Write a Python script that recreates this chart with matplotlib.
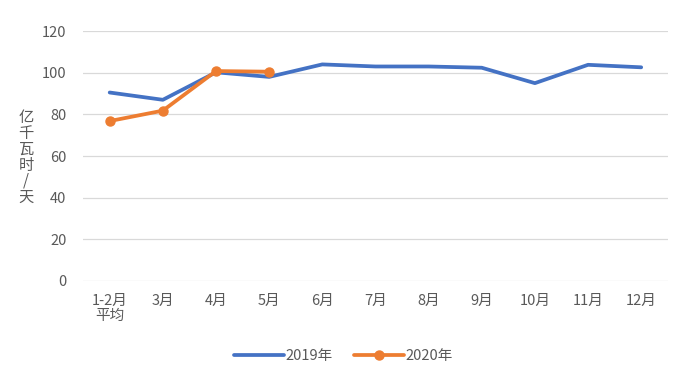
#!/usr/bin/env python3
# -*- coding: utf-8 -*-

import matplotlib
matplotlib.use('Agg')
import matplotlib.pyplot as plt

plt.rcParams['font.family'] = ['Noto Sans CJK SC', 'DejaVu Sans']

months = ['1-2月\n平均', '3月', '4月', '5月', '6月', '7月', '8月', '9月', '10月', '11月', '12月']
power_2019 = [90.5, 87, 100.2, 98, 104, 103, 103, 102.4, 95, 103.8, 102.6]
power_2020 = [76.8, 81.8, 100.8, 100.5]
y_ticks = [0, 20, 40, 60, 80, 100, 120]

blue = '#4472C4'
orange = '#ED7D31'
gray = '#595959'

fig = plt.figure(figsize=(6.87, 3.79), dpi=100)
ax = fig.add_axes([0.121, 0.2586, 0.851, 0.6594])

x = list(range(len(months)))
ax.plot(x, power_2019, color=blue, linewidth=2.7, label='2019年', solid_capstyle='round')
ax.plot(x[:len(power_2020)], power_2020, color=orange, linewidth=2.7, marker='o',
        markersize=6.5, label='2020年', solid_capstyle='round')

ax.set_xlim(-0.5, len(months) - 0.5)
ax.set_ylim(0, 120)
ax.set_yticks(y_ticks)
ax.set_xticks(x)
ax.set_xticklabels(months, linespacing=1.1)
ax.grid(axis='y', color='#D9D9D9', linewidth=0.9)
ax.set_axisbelow(True)
for s in ax.spines.values():
    s.set_visible(False)
ax.tick_params(length=0, colors=gray, labelsize=10.5)
ax.tick_params(axis='y', pad=12)
ax.tick_params(axis='x', pad=9)

fig.text(0.038, 0.585, '亿\n千\n瓦\n时\n/\n天', color=gray, fontsize=11,
         ha='center', va='center', linespacing=0.92)

ax.legend(loc='upper center', bbox_to_anchor=(0.445, -0.22), ncol=2, frameon=False,
          fontsize=10.5, labelcolor=gray, handlelength=3.4, handletextpad=0.1,
          columnspacing=1.5)

plt.savefig('out.png', dpi=100)
